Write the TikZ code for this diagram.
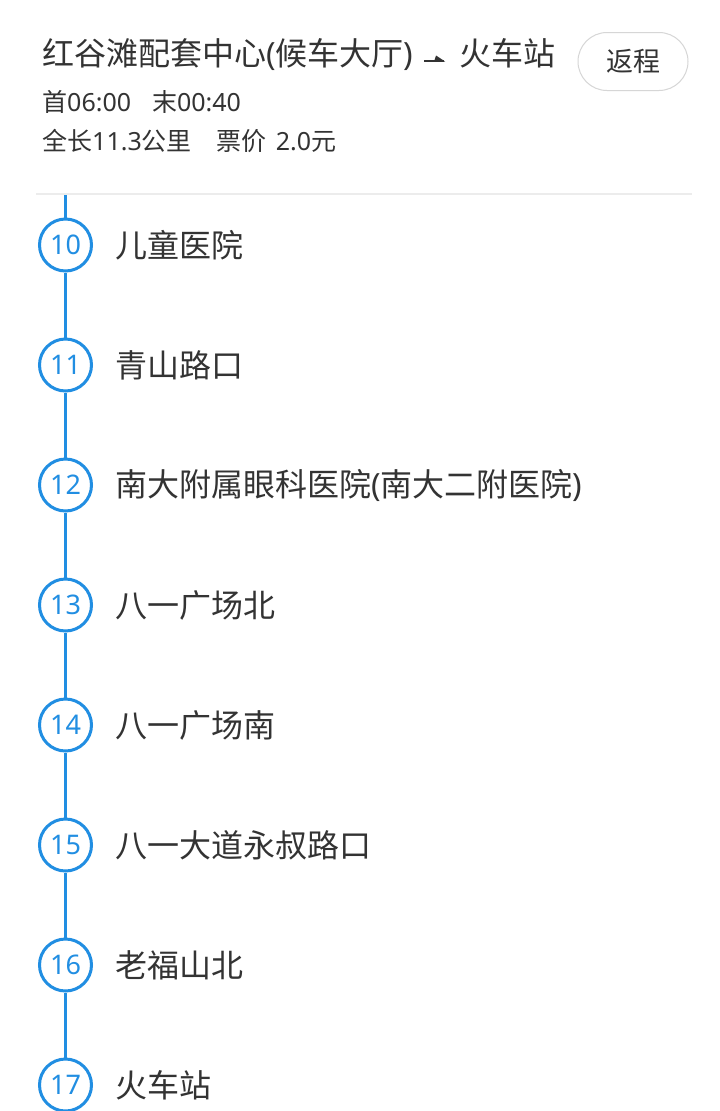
\documentclass[tikz,border=0pt]{standalone}
\usepackage{fontspec}
\setmainfont{Noto Sans CJK SC}
\newfontfamily\lat{Noto Sans}
\definecolor{lineblue}{RGB}{33,142,226}
\definecolor{txt}{RGB}{51,51,51}
\definecolor{sep}{RGB}{236,236,236}
\definecolor{btnborder}{RGB}{214,214,214}
\begin{document}
\begin{tikzpicture}[x=1pt,y=-1pt,
  stop/.style={circle,draw=lineblue,line width=3pt,fill=white,minimum size=52pt,inner sep=0pt,text=lineblue,font=\lat\fontsize{27}{27}\selectfont},
  stname/.style={anchor=west,text=txt,inner sep=0pt,font=\fontsize{32}{32}\selectfont},
  title/.style={anchor=base west,text=txt,inner sep=0pt,font=\fontsize{32}{32}\selectfont},
  info/.style={anchor=base west,text=txt,inner sep=0pt,font=\fontsize{25}{25}\selectfont},
  route/.style={draw=lineblue,line width=3pt}]
\useasboundingbox[fill=white] (0,0) rectangle (720,1111);
% header
\node[title] (t1) at (42,65) {红谷滩配套中心{\lat(}候车大厅{\lat)}};
\node[title] (t2) at (459,65) {火车站};
\coordinate (aS) at (424,61);
\coordinate (aE) at (444,61);
\draw[txt,line width=2pt] (aS) -- (aE);
\fill[txt] (436,55.5) -- (445,61.5) -- (434,61.5) -- cycle;
\node[info] (l2) at (42,111) {首{\lat 06:00}\hspace{21pt}末{\lat 00:40}};
\node[info] (l3) at (42,150) {全长{\lat 11.3}公里\hspace{25pt}票价\hspace{9pt}{\lat 2.0}元};
\node[draw=btnborder,line width=1pt,rounded corners=29pt,minimum width=110pt,minimum height=58pt,inner sep=0pt,text=txt,font=\fontsize{27}{27}\selectfont] (btn) at (633,61.5) {返程};
\coordinate (sepL) at (36,194);
\coordinate (sepR) at (692,194);
\draw[sep,line width=1.2pt] (sepL) -- (sepR);
% stations
\coordinate (top) at (65.5,195);
\foreach \n/\name in {10/儿童医院,11/青山路口,12/{南大附属眼科医院{\lat(}南大二附医院{\lat)}},13/八一广场北,14/八一广场南,15/八一大道永叔路口,16/老福山北,17/火车站}{
  \pgfmathsetmacro{\yy}{245+120*(\n-10)}
  \node[stop] (s\n) at (65.5,\yy) {\n};
  \node[stname] (n\n) at (115,\yy) {\name};
}
\draw[route] (top) -- (s10);
\foreach \a/\b in {10/11,11/12,12/13,13/14,14/15,15/16,16/17}{
  \draw[route] (s\a) -- (s\b);
}
\end{tikzpicture}
\end{document}
